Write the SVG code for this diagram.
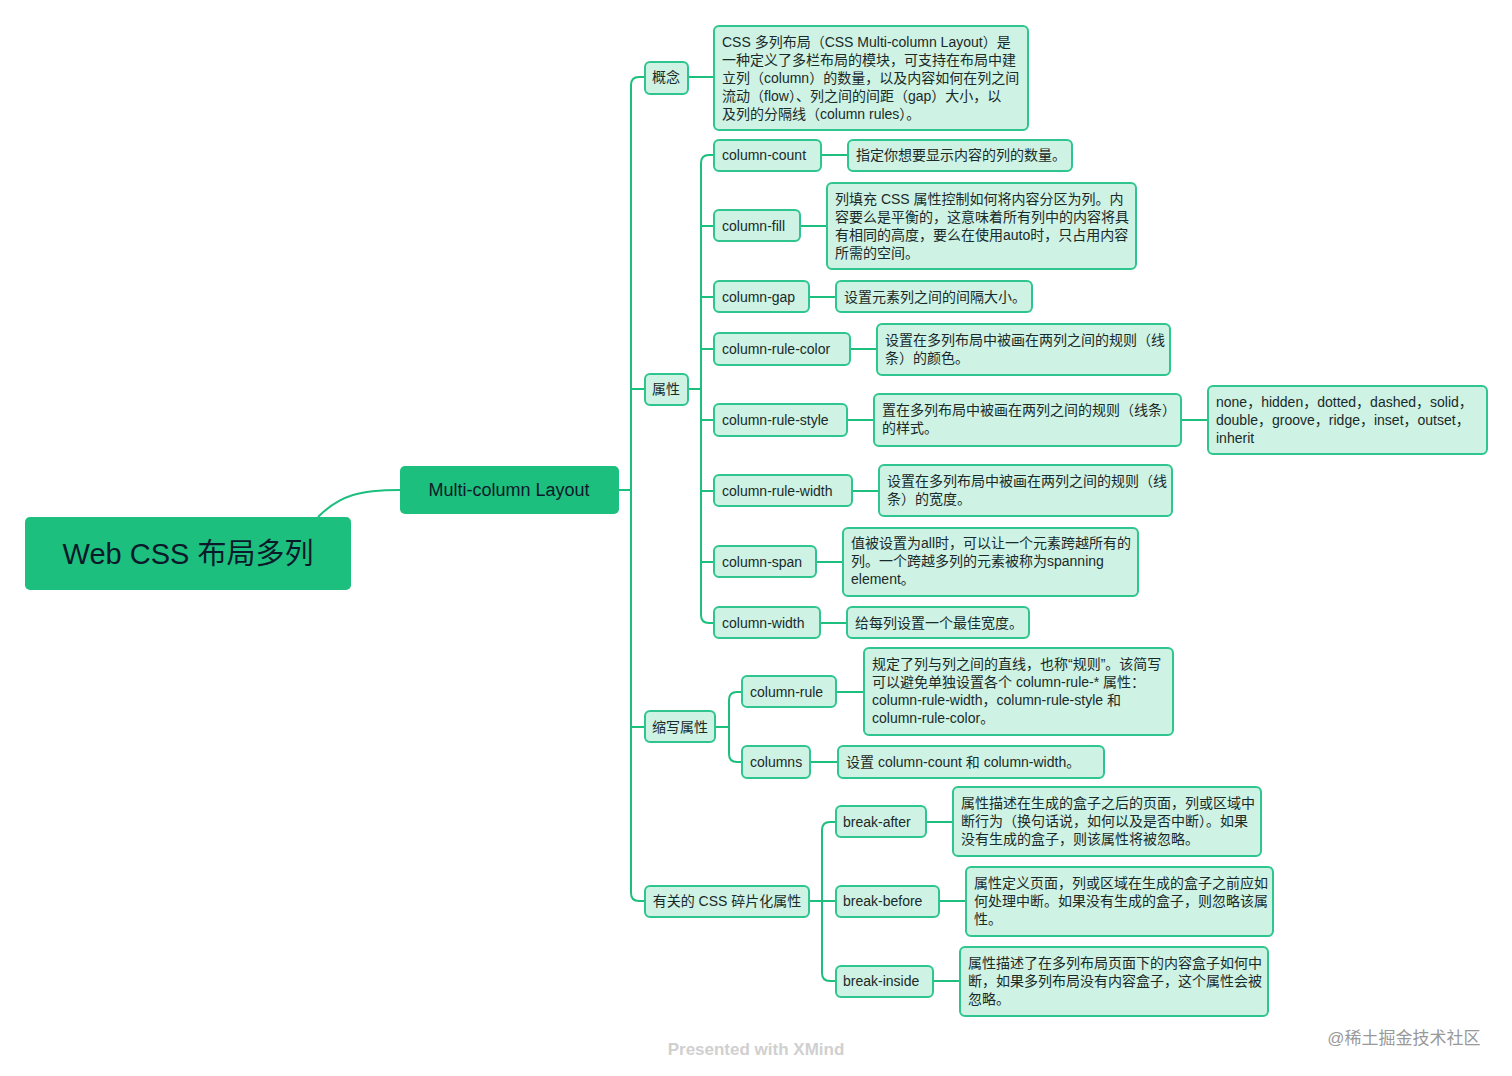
<svg xmlns="http://www.w3.org/2000/svg" width="1512" height="1076" viewBox="0 0 1512 1076">
<style>
text{font-family:"Liberation Sans","Noto Sans CJK SC",sans-serif;fill:#1a2a2a;font-size:14px}
.n rect{fill:#cef2e3;stroke:#2ec68e;stroke-width:2}
.c path{fill:none;stroke:#1dbf7f;stroke-width:2}
</style>
<rect width="1512" height="1076" fill="#fff"/>
<g class="c">
<path d="M318,517 C340,495 360,490 400,490"/>
<path d="M619,490 H631"/>
<path d="M645,77 H639 Q631,77 631,85 V893 Q631,901 639,901 H645"/>
<path d="M631,389 H645 M631,727 H645"/>
<path d="M688,77 H714"/>
<path d="M688,389 H701"/>
<path d="M714,155 H709 Q701,155 701,163 V615 Q701,623 709,623 H714"/>
<path d="M701,226 H714 M701,297 H714 M701,349 H714 M701,420 H714 M701,491 H714 M701,562 H714"/>
<path d="M821,155 H848 M800,226 H827 M809,297 H836 M850,349 H877 M847,420 H874 M1181,420 H1208 M852,491 H879 M816,562 H843 M820,623 H847"/>
<path d="M715,727 H729"/>
<path d="M742,692 H737 Q729,692 729,700 V754 Q729,762 737,762 H742"/>
<path d="M836,692 H864 M810,762 H838"/>
<path d="M809,901 H836"/>
<path d="M836,822 H830 Q822,822 822,830 V973 Q822,981 830,981 H836"/>
<path d="M926,822 H953 M939,901 H966 M933,981 H960"/>
</g>
<g id="root"><rect x="25" y="517" width="326" height="73" rx="5" fill="#1dbf7e"/><text x="188" y="564" text-anchor="middle" style="font-size:29px;fill:#0b1a2a">Web CSS 布局多列</text></g>
<g id="main"><rect x="400" y="466" width="219" height="48" rx="5" fill="#1dbf7e"/><text x="509" y="496" text-anchor="middle" style="font-size:18px;fill:#0b1a2a">Multi-column Layout</text></g>
<g class="n" id="gainian"><rect x="645" y="62" width="43" height="32" rx="5"/><text x="666" y="82" text-anchor="middle">概念</text></g>
<g class="n" id="gainian-d"><rect x="714" y="26" width="314" height="104" rx="5"/><text x="722" y="47">CSS 多列布局（CSS Multi-column Layout）是<tspan x="722" dy="18">一种定义了多栏布局的模块，可支持在布局中建</tspan><tspan x="722" dy="18">立列（column）的数量，以及内容如何在列之间</tspan><tspan x="722" dy="18">流动（flow）、列之间的间距（gap）大小，以</tspan><tspan x="722" dy="18">及列的分隔线（column rules）。</tspan></text></g>
<g class="n" id="shuxing"><rect x="645" y="374" width="43" height="31" rx="5"/><text x="666" y="394" text-anchor="middle">属性</text></g>
<g class="n" id="cc"><rect x="714" y="140" width="107" height="31" rx="5"/><text x="722" y="160">column-count</text></g>
<g class="n" id="cc-d"><rect x="848" y="140" width="224" height="31" rx="5"/><text x="856" y="160">指定你想要显示内容的列的数量。</text></g>
<g class="n" id="cf"><rect x="714" y="210" width="86" height="31" rx="5"/><text x="722" y="231">column-fill</text></g>
<g class="n" id="cf-d"><rect x="827" y="183" width="309" height="86" rx="5"/><text x="835" y="204">列填充 CSS 属性控制如何将内容分区为列。内<tspan x="835" dy="18">容要么是平衡的，这意味着所有列中的内容将具</tspan><tspan x="835" dy="18">有相同的高度，要么在使用auto时，只占用内容</tspan><tspan x="835" dy="18">所需的空间。</tspan></text></g>
<g class="n" id="cg"><rect x="714" y="281" width="95" height="31" rx="5"/><text x="722" y="302">column-gap</text></g>
<g class="n" id="cg-d"><rect x="836" y="281" width="196" height="31" rx="5"/><text x="844" y="302">设置元素列之间的间隔大小。</text></g>
<g class="n" id="crc"><rect x="714" y="333" width="136" height="32" rx="5"/><text x="722" y="354">column-rule-color</text></g>
<g class="n" id="crc-d"><rect x="877" y="324" width="293" height="51" rx="5"/><text x="885" y="345">设置在多列布局中被画在两列之间的规则（线<tspan x="885" dy="18">条）的颜色。</tspan></text></g>
<g class="n" id="crs"><rect x="714" y="404" width="133" height="32" rx="5"/><text x="722" y="425">column-rule-style</text></g>
<g class="n" id="crs-d"><rect x="874" y="394" width="307" height="52" rx="5"/><text x="882" y="415">置在多列布局中被画在两列之间的规则（线条）<tspan x="882" dy="18">的样式。</tspan></text></g>
<g class="n" id="crs-v"><rect x="1208" y="386" width="279" height="68" rx="5"/><text x="1216" y="407">none，hidden，dotted，dashed，solid，<tspan x="1216" dy="18">double，groove，ridge，inset，outset，</tspan><tspan x="1216" dy="18">inherit</tspan></text></g>
<g class="n" id="crw"><rect x="714" y="475" width="138" height="31" rx="5"/><text x="722" y="496">column-rule-width</text></g>
<g class="n" id="crw-d"><rect x="879" y="465" width="293" height="51" rx="5"/><text x="887" y="486">设置在多列布局中被画在两列之间的规则（线<tspan x="887" dy="18">条）的宽度。</tspan></text></g>
<g class="n" id="cs"><rect x="714" y="546" width="102" height="31" rx="5"/><text x="722" y="567">column-span</text></g>
<g class="n" id="cs-d"><rect x="843" y="528" width="295" height="68" rx="5"/><text x="851" y="548">值被设置为all时，可以让一个元素跨越所有的<tspan x="851" dy="18">列。一个跨越多列的元素被称为spanning</tspan><tspan x="851" dy="18">element。</tspan></text></g>
<g class="n" id="cw"><rect x="714" y="607" width="106" height="31" rx="5"/><text x="722" y="628">column-width</text></g>
<g class="n" id="cw-d"><rect x="847" y="607" width="182" height="31" rx="5"/><text x="855" y="628">给每列设置一个最佳宽度。</text></g>
<g class="n" id="suoxie"><rect x="645" y="711" width="70" height="31" rx="5"/><text x="680" y="732" text-anchor="middle">缩写属性</text></g>
<g class="n" id="cr"><rect x="742" y="676" width="94" height="31" rx="5"/><text x="750" y="697">column-rule</text></g>
<g class="n" id="cr-d"><rect x="864" y="648" width="309" height="87" rx="5"/><text x="872" y="669">规定了列与列之间的直线，也称“规则”。该简写<tspan x="872" dy="18">可以避免单独设置各个 column-rule-* 属性：</tspan><tspan x="872" dy="18">column-rule-width，column-rule-style 和</tspan><tspan x="872" dy="18">column-rule-color。</tspan></text></g>
<g class="n" id="cols"><rect x="742" y="746" width="68" height="32" rx="5"/><text x="750" y="767">columns</text></g>
<g class="n" id="cols-d"><rect x="838" y="746" width="266" height="32" rx="5"/><text x="846" y="767">设置 column-count 和 column-width。</text></g>
<g class="n" id="frag"><rect x="645" y="886" width="164" height="31" rx="5"/><text x="727" y="906" text-anchor="middle">有关的 CSS 碎片化属性</text></g>
<g class="n" id="ba"><rect x="836" y="806" width="90" height="31" rx="5"/><text x="843" y="827">break-after</text></g>
<g class="n" id="ba-d"><rect x="953" y="787" width="308" height="69" rx="5"/><text x="961" y="808">属性描述在生成的盒子之后的页面，列或区域中<tspan x="961" dy="18">断行为（换句话说，如何以及是否中断）。如果</tspan><tspan x="961" dy="18">没有生成的盒子，则该属性将被忽略。</tspan></text></g>
<g class="n" id="bb"><rect x="836" y="886" width="103" height="31" rx="5"/><text x="843" y="906">break-before</text></g>
<g class="n" id="bb-d"><rect x="966" y="867" width="307" height="69" rx="5"/><text x="974" y="888">属性定义页面，列或区域在生成的盒子之前应如<tspan x="974" dy="18">何处理中断。如果没有生成的盒子，则忽略该属</tspan><tspan x="974" dy="18">性。</tspan></text></g>
<g class="n" id="bi"><rect x="836" y="966" width="97" height="31" rx="5"/><text x="843" y="986">break-inside</text></g>
<g class="n" id="bi-d"><rect x="960" y="947" width="308" height="69" rx="5"/><text x="968" y="968">属性描述了在多列布局页面下的内容盒子如何中<tspan x="968" dy="18">断，如果多列布局没有内容盒子，这个属性会被</tspan><tspan x="968" dy="18">忽略。</tspan></text></g>
<text x="756" y="1055" text-anchor="middle" style="font-size:17px;font-weight:bold;fill:#d0d0d0">Presented with XMind</text>
<text x="1404" y="1044" text-anchor="middle" style="font-size:17px;fill:#999">@稀土掘金技术社区</text>
</svg>
